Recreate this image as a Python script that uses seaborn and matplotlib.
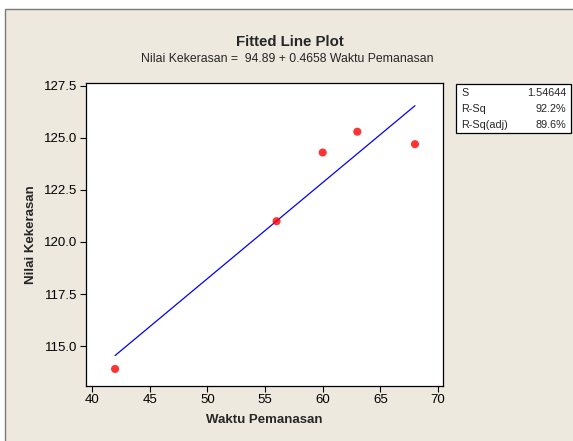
import numpy as np
import pandas as pd
import matplotlib
matplotlib.use("Agg")
import matplotlib.pyplot as plt
from matplotlib.patches import Rectangle
import seaborn as sns

# data
waktu = [42, 56, 60, 63, 68]
kekerasan = [113.9, 121.0, 124.3, 125.3, 124.7]
x_ticks = [40, 45, 50, 55, 60, 65, 70]
y_ticks = [115.0, 117.5, 120.0, 122.5, 125.0, 127.5]
stat_names = ["S", "R-Sq", "R-Sq(adj)"]
stat_values = ["1.54644", "92.2%", "89.6%"]

df = pd.DataFrame({"Waktu Pemanasan": waktu, "Nilai Kekerasan": kekerasan})

sns.set_style("white")
plt.rcParams["font.family"] = ["Liberation Sans", "DejaVu Sans"]

bg = "#EDE9DF"
fig = plt.figure(figsize=(5.73, 4.41), dpi=100, facecolor="white")
fig.add_artist(Rectangle((5 / 573, -0.1), 1.2, 1.1 - 9 / 441,
                         transform=fig.transFigure, facecolor=bg,
                         edgecolor="#7a7a7a", linewidth=1.0, zorder=-10))

ax = fig.add_axes([86 / 573, 1 - 386 / 441, 357 / 573, 303 / 441])
ax.set_facecolor("white")

sns.regplot(data=df, x="Waktu Pemanasan", y="Nilai Kekerasan", ax=ax, ci=None,
            scatter_kws=dict(color="red", s=34, edgecolor="none", zorder=3),
            line_kws=dict(color="blue", linewidth=0.9))

ax.set_xlim(39.48, 70.43)
ax.set_ylim(113.08, 127.64)
ax.set_xticks(x_ticks)
ax.set_yticks(y_ticks)
ax.set_yticklabels([f"{v:.1f}" for v in y_ticks])
ax.tick_params(axis="both", direction="out", length=4, width=0.8, labelsize=9.5,
               colors="black", left=True, bottom=True, pad=2)
for sp in ax.spines.values():
    sp.set_color("black")
    sp.set_linewidth(0.9)

ax.set_xlabel("Waktu Pemanasan", fontsize=9.5, fontweight="bold")
ax.set_ylabel("Nilai Kekerasan", fontsize=9.5, fontweight="bold")
ax.xaxis.set_label_coords(0.5, -(420 - 386) / 303)
ax.xaxis.label.set_va("center")
ax.yaxis.set_label_coords(-(86 - 31) / 357, 0.5)
ax.yaxis.label.set_va("center")

fig.text(290 / 573, 1 - 42 / 441, "Fitted Line Plot", ha="center", va="center",
         fontsize=10.8, fontweight="bold")
fig.text(287 / 573, 1 - 59 / 441,
         "Nilai Kekerasan =  94.89 + 0.4658 Waktu Pemanasan",
         ha="center", va="center", fontsize=8.8)

# statistics box
fig.add_artist(Rectangle((456 / 573, 1 - 133 / 441), 115 / 573, 49 / 441,
                         transform=fig.transFigure, facecolor="white",
                         edgecolor="black", linewidth=0.9))
for i, (n, v) in enumerate(zip(stat_names, stat_values)):
    yy = 1 - (93 + i * 16) / 441
    fig.text(461 / 573, yy, n, ha="left", va="center", fontsize=7.8)
    fig.text(566 / 573, yy, v, ha="right", va="center", fontsize=7.8)

fig.savefig("out.png", dpi=100, facecolor=fig.get_facecolor())
